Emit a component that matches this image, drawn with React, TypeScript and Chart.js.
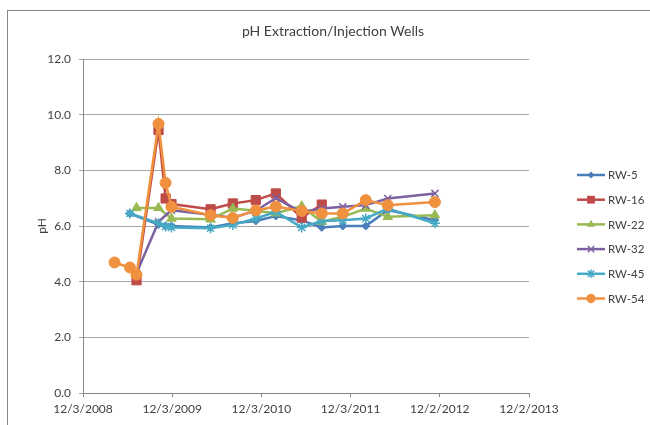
import React, { useEffect, useRef } from "react";
import { Chart, registerables } from "chart.js";

Chart.register(...registerables);

const TITLE = "pH Extraction/Injection Wells";
const Y_TITLE = "pH";

const X_TICK_LABELS = ["12/3/2008", "12/3/2009", "12/3/2010", "12/3/2011", "12/2/2012", "12/2/2013"];
const Y_MIN = 0;
const Y_MAX = 12;
const Y_STEP = 2;

const SAMPLE_DATES = [
  "2009-04-11", "2009-06-13", "2009-07-10", "2009-10-08", "2009-11-06", "2009-11-30",
  "2010-05-09", "2010-08-08", "2010-11-10", "2011-01-31", "2011-05-17", "2011-08-07",
  "2011-11-01", "2012-02-03", "2012-05-03", "2012-11-12",
];

const RW5 = [null, 6.45, null, 6.05, 6.0, 6.0, 5.95, 6.1, 6.18, 6.36, 6.2, 5.95, 6.0, 6.0, 6.57, 6.21];
const RW16 = [null, null, 4.05, 9.45, 6.99, 6.79, 6.6, 6.81, 6.93, 7.17, 6.3, 6.77, null, null, null, null];
const RW22 = [null, null, 6.65, 6.65, null, 6.27, 6.24, 6.63, 6.55, 6.46, 6.71, 6.15, 6.33, 6.63, 6.33, 6.39];
const RW32 = [null, null, 4.3, 6.15, null, 6.57, 6.4, 6.3, 6.55, 7.0, 6.5, 6.63, 6.69, 6.75, 6.99, 7.17];
const RW45 = [null, 6.45, null, 6.1, 5.98, 5.95, 5.92, 6.04, 6.27, 6.51, 5.95, 6.18, 6.21, 6.27, 6.63, 6.1];
const RW54 = [4.69, 4.51, 4.25, 9.67, 7.55, 6.69, 6.39, 6.29, 6.56, 6.7, 6.54, 6.45, 6.45, 6.93, 6.75, 6.86];

const SERIES_NAMES = ["RW-5", "RW-16", "RW-22", "RW-32", "RW-45", "RW-54"];
const SERIES_VALUES = [RW5, RW16, RW22, RW32, RW45, RW54];
const SERIES_COLORS = ["#4A7EBB", "#BE4B48", "#98B954", "#7D60A0", "#46AAC5", "#F0913F"];
const SERIES_MARKERS = ["rectRot", "rect", "triangle", "crossRot", "star", "circle"];
const SERIES_RADIUS = [4, 6.5, 5.5, 5, 5, 5.5];

const DAY = 86400000;
const BASE = Date.UTC(2008, 11, 3);
const isoToDay = (s: string) => {
  const [y, m, d] = s.split("-").map(Number);
  return (Date.UTC(y, m - 1, d) - BASE) / DAY;
};
const mdyToDay = (s: string) => {
  const [m, d, y] = s.split("/").map(Number);
  return (Date.UTC(y, m - 1, d) - BASE) / DAY;
};
const TICK_DAYS = X_TICK_LABELS.map(mdyToDay);

function drawMarker(ctx: CanvasRenderingContext2D, style: string, x: number, y: number, r: number, color: string) {
  ctx.save();
  ctx.fillStyle = color;
  ctx.strokeStyle = color;
  ctx.lineWidth = 1.5;
  ctx.beginPath();
  if (style === "rectRot") {
    ctx.moveTo(x, y - r); ctx.lineTo(x + r, y); ctx.lineTo(x, y + r); ctx.lineTo(x - r, y); ctx.closePath(); ctx.fill();
  } else if (style === "rect") {
    const s = r * Math.SQRT1_2;
    ctx.rect(x - s, y - s, 2 * s, 2 * s); ctx.fill();
  } else if (style === "triangle") {
    ctx.moveTo(x, y - r); ctx.lineTo(x + r * 0.87, y + r * 0.5); ctx.lineTo(x - r * 0.87, y + r * 0.5); ctx.closePath(); ctx.fill();
  } else if (style === "crossRot") {
    const s = r * 0.75;
    ctx.moveTo(x - s, y - s); ctx.lineTo(x + s, y + s); ctx.moveTo(x + s, y - s); ctx.lineTo(x - s, y + s); ctx.stroke();
  } else if (style === "star") {
    const s = r * 0.75;
    ctx.moveTo(x - s, y - s); ctx.lineTo(x + s, y + s); ctx.moveTo(x + s, y - s); ctx.lineTo(x - s, y + s);
    ctx.moveTo(x, y - r); ctx.lineTo(x, y + r); ctx.stroke();
  } else {
    ctx.arc(x, y, r, 0, Math.PI * 2); ctx.fill();
  }
  ctx.restore();
}

const decorPlugin = {
  id: "decor",
  beforeDraw(chart: any) {
    const ctx = chart.ctx as CanvasRenderingContext2D;
    ctx.save();
    ctx.fillStyle = "#ffffff";
    ctx.fillRect(0, 0, chart.width, chart.height);
    ctx.strokeStyle = "#888888";
    ctx.lineWidth = 1;
    ctx.strokeRect(7.5, 10.5, 800, 600);
    ctx.restore();
  },
  afterDraw(chart: any) {
    const ctx = chart.ctx as CanvasRenderingContext2D;
    ctx.save();
    ctx.fillStyle = "#404040";
    ctx.font = "14px Lato";
    ctx.textAlign = "center";
    ctx.textBaseline = "middle";
    ctx.fillText(TITLE, 333, 31);

    ctx.save();
    ctx.translate(42, 226);
    ctx.rotate(-Math.PI / 2);
    ctx.font = "12px Lato";
    ctx.fillText(Y_TITLE, 0, 0);
    ctx.restore();

    ctx.font = "11.5px Lato";
    ctx.textAlign = "left";
    SERIES_NAMES.forEach((name, i) => {
      const y = 175 + i * 24.7;
      ctx.strokeStyle = SERIES_COLORS[i];
      ctx.lineWidth = 2.5;
      ctx.beginPath();
      ctx.moveTo(577, y);
      ctx.lineTo(605, y);
      ctx.stroke();
      drawMarker(ctx, SERIES_MARKERS[i], 591, y, SERIES_RADIUS[i] * 0.85, SERIES_COLORS[i]);
      ctx.fillStyle = "#404040";
      ctx.fillText(name, 608, y + 0.5);
    });
    ctx.restore();
  },
};

export default function App() {
  const ref = useRef<HTMLCanvasElement | null>(null);
  useEffect(() => {
    if (!ref.current) return;
    const datasets = SERIES_NAMES.map((name, i) => ({
      label: name,
      data: SAMPLE_DATES.map((d, j) => ({ x: isoToDay(d), y: SERIES_VALUES[i][j] })).filter((p) => p.y !== null),
      borderColor: SERIES_COLORS[i],
      backgroundColor: SERIES_COLORS[i],
      borderWidth: 2.5,
      pointStyle: SERIES_MARKERS[i],
      pointRadius: SERIES_RADIUS[i],
      pointBorderWidth: SERIES_MARKERS[i] === "crossRot" || SERIES_MARKERS[i] === "star" ? 1.5 : 1,
      pointBorderColor: SERIES_COLORS[i],
      pointBackgroundColor: SERIES_COLORS[i],
      tension: 0,
      order: SERIES_NAMES.length - i,
    }));
    const chart = new Chart(ref.current, {
      type: "line",
      data: { datasets },
      plugins: [decorPlugin],
      options: {
        animation: false,
        responsive: false,
        events: [],
        layout: { padding: { top: 59, right: 121, bottom: 0, left: 0 } },
        font: { family: "Lato" },
        plugins: { legend: { display: false }, title: { display: false }, tooltip: { enabled: false } },
        scales: {
          x: {
            type: "linear",
            min: TICK_DAYS[0],
            max: TICK_DAYS[TICK_DAYS.length - 1],
            afterBuildTicks: (scale: any) => {
              scale.ticks = TICK_DAYS.map((v) => ({ value: v }));
            },
            afterFit: (scale: any) => {
              scale.height = 32;
            },
            ticks: {
              autoSkip: false,
              maxRotation: 0,
              padding: 5,
              color: "#404040",
              font: { family: "Lato", size: 12 },
              callback: (v: any) => {
                const idx = TICK_DAYS.indexOf(Number(v));
                return idx >= 0 ? X_TICK_LABELS[idx] : "";
              },
            },
            grid: { drawOnChartArea: false, drawTicks: true, tickLength: 4, color: "#888888" },
            border: { display: true, color: "#888888" },
          },
          y: {
            type: "linear",
            min: Y_MIN,
            max: Y_MAX,
            afterFit: (scale: any) => {
              scale.width = 83;
            },
            ticks: {
              stepSize: Y_STEP,
              padding: 8,
              color: "#404040",
              font: { family: "Lato", size: 12 },
              callback: (v: any) => Number(v).toFixed(1),
            },
            grid: { color: "#a6a6a6", tickLength: 4, lineWidth: 1 },
            border: { display: true, color: "#888888" },
          },
        },
      },
    } as any);
    return () => chart.destroy();
  }, []);
  return (
    <div style={{ position: "fixed", left: 0, top: 0, width: 650, height: 425 }}>
      <canvas ref={ref} width={650} height={425} style={{ width: 650, height: 425, display: "block" }} />
    </div>
  );
}
